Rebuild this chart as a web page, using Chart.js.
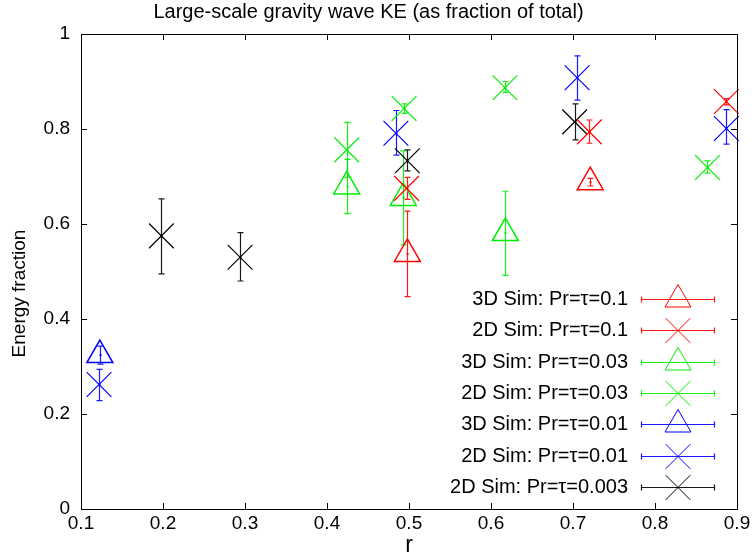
<!DOCTYPE html>
<html>
<head>
<meta charset="utf-8">
<script src="https://cdn.jsdelivr.net/npm/chart.js@4.4.0/dist/chart.umd.min.js"></script>
<style>
  html, body { margin: 0; padding: 0; background: #fff; }
  #caixa { width: 756px; height: 559px; }
</style>
</head>
<body>
<div id="caixa"><canvas id="graficoEnergia"></canvas></div>
<script>
// === DADOS ===
const tituloGrafico = 'Large-scale gravity wave KE (as fraction of total)';
const tituloY = 'Energy fraction';
const seriesLabels = [
  '3D Sim: Pr=τ=0.1', '2D Sim: Pr=τ=0.1',
  '3D Sim: Pr=τ=0.03', '2D Sim: Pr=τ=0.03',
  '3D Sim: Pr=τ=0.01', '2D Sim: Pr=τ=0.01',
  '2D Sim: Pr=τ=0.003'
];

// 3D Sim, Pr=τ=0.1
const r3D_p1 = [0.498, 0.721];
const e3D_p1 = [0.537, 0.688];
const lo3D_p1 = [0.447, 0.680];
const hi3D_p1 = [0.627, 0.696];
// 2D Sim, Pr=τ=0.1
const r2D_p1 = [0.497, 0.720, 0.887];
const e2D_p1 = [0.675, 0.794, 0.858];
const lo2D_p1 = [0.652, 0.770, 0.851];
const hi2D_p1 = [0.698, 0.819, 0.864];
// 3D Sim, Pr=τ=0.03
const r3D_p03 = [0.424, 0.493, 0.6175];
const e3D_p03 = [0.679, 0.655, 0.581];
const lo3D_p03 = [0.622, 0.556, 0.492];
const hi3D_p03 = [0.736, 0.754, 0.669];
// 2D Sim, Pr=τ=0.03
const r2D_p03 = [0.424, 0.494, 0.617, 0.864];
const e2D_p03 = [0.756, 0.843, 0.887, 0.719];
const lo2D_p03 = [0.698, 0.833, 0.877, 0.707];
const hi2D_p03 = [0.814, 0.853, 0.900, 0.733];
// 3D Sim, Pr=τ=0.01
const r3D_p01 = [0.123];
const e3D_p01 = [0.324];
const lo3D_p01 = [0.305];
const hi3D_p01 = [0.343];
// 2D Sim, Pr=τ=0.01
const r2D_p01 = [0.122, 0.484, 0.705, 0.887];
const e2D_p01 = [0.262, 0.791, 0.908, 0.801];
const lo2D_p01 = [0.228, 0.745, 0.861, 0.768];
const hi2D_p01 = [0.294, 0.839, 0.954, 0.841];
// 2D Sim, Pr=τ=0.003
const r2D_p003 = [0.198, 0.294, 0.498, 0.702];
const e2D_p003 = [0.575, 0.530, 0.733, 0.815];
const lo2D_p003 = [0.495, 0.480, 0.712, 0.777];
const hi2D_p003 = [0.653, 0.582, 0.756, 0.853];

// eixos
const xTicks = [0.1, 0.2, 0.3, 0.4, 0.5, 0.6, 0.7, 0.8, 0.9];
const xTickLabels = ['0.1', '0.2', '0.3', '0.4', '0.5', '0.6', '0.7', '0.8', '0.9'];
const yTicks = [0, 0.2, 0.4, 0.6, 0.8, 1];
const yTickLabels = ['0', '0.2', '0.4', '0.6', '0.8', '1'];

// junta os arrays em pontos {x, y, lo, hi}
function pontos(r, e, lo, hi) {
  return r.map((x, i) => ({ x: x, y: e[i], lo: lo[i], hi: hi[i] }));
}

const fonte = 'Liberation Sans, Arial, sans-serif';
const VERMELHO = '#ff0000', VERDE = '#00ee00', AZUL = '#0000ff', PRETO = '#000000';

function serie(i, dados, cor, estilo) {
  return {
    label: seriesLabels[i],
    data: dados,
    borderColor: cor,
    backgroundColor: 'transparent',
    pointStyle: estilo,
    pointRadius: estilo === 'triangle' ? 15 : 17.5,
    pointHoverRadius: estilo === 'triangle' ? 15 : 17.5,
    pointBorderWidth: estilo === 'triangle' ? 1.5 : 1.2,
    showLine: false,
    clip: false,
    corErro: cor
  };
}

const datasets = [
  serie(0, pontos(r3D_p1, e3D_p1, lo3D_p1, hi3D_p1), VERMELHO, 'triangle'),
  serie(1, pontos(r2D_p1, e2D_p1, lo2D_p1, hi2D_p1), VERMELHO, 'crossRot'),
  serie(2, pontos(r3D_p03, e3D_p03, lo3D_p03, hi3D_p03), VERDE, 'triangle'),
  serie(3, pontos(r2D_p03, e2D_p03, lo2D_p03, hi2D_p03), VERDE, 'crossRot'),
  serie(4, pontos(r3D_p01, e3D_p01, lo3D_p01, hi3D_p01), AZUL, 'triangle'),
  serie(5, pontos(r2D_p01, e2D_p01, lo2D_p01, hi2D_p01), AZUL, 'crossRot'),
  serie(6, pontos(r2D_p003, e2D_p003, lo2D_p003, hi2D_p003), PRETO, 'crossRot')
];

// === BARRAS DE ERRO ===
const barrasErro = {
  id: 'barrasErro',
  beforeDatasetsDraw(chart) {
    const ctx = chart.ctx;
    const xs = chart.scales.x, ys = chart.scales.y;
    chart.data.datasets.forEach(ds => {
      ctx.save();
      ctx.strokeStyle = ds.corErro;
      ctx.globalAlpha = 0.9;
      ctx.lineWidth = 1.2;
      ds.data.forEach(p => {
        const px = Math.round(xs.getPixelForValue(p.x)) + 0.5;
        const topo = ys.getPixelForValue(p.hi);
        const base = ys.getPixelForValue(p.lo);
        const py = ys.getPixelForValue(p.y);
        ctx.beginPath();
        ctx.moveTo(px, topo); ctx.lineTo(px, base);
        ctx.moveTo(px - 3, topo); ctx.lineTo(px + 3, topo);
        ctx.moveTo(px - 3, base); ctx.lineTo(px + 3, base);
        ctx.stroke();
        ctx.fillStyle = ds.corErro;
        ctx.fillRect(px - 1, py - 1, 2, 2);
      });
      ctx.restore();
    });
  }
};

// === MOLDURA, MARCAS, TÍTULO Y E LEGENDA ===
const moldura = {
  id: 'moldura',
  afterDraw(chart) {
    const ctx = chart.ctx;
    const a = chart.chartArea;
    const xs = chart.scales.x, ys = chart.scales.y;
    ctx.save();
    ctx.strokeStyle = '#000';
    ctx.lineWidth = 1;
    ctx.strokeRect(Math.round(a.left) + 0.5, Math.round(a.top) + 0.5,
      Math.round(a.right - a.left), Math.round(a.bottom - a.top));
    ctx.beginPath();
    xTicks.forEach(v => {
      const px = Math.round(xs.getPixelForValue(v)) + 0.5;
      ctx.moveTo(px, a.bottom); ctx.lineTo(px, a.bottom - 6);
      ctx.moveTo(px, a.top); ctx.lineTo(px, a.top + 6);
    });
    yTicks.forEach(v => {
      const py = Math.round(ys.getPixelForValue(v)) + 0.5;
      ctx.moveTo(a.left, py); ctx.lineTo(a.left + 6, py);
      ctx.moveTo(a.right, py); ctx.lineTo(a.right - 6, py);
    });
    ctx.stroke();

    // título do eixo Y (um pouco abaixo do centro, como no original)
    ctx.save();
    ctx.translate(20, (a.top + a.bottom) / 2 + 22);
    ctx.rotate(-Math.PI / 2);
    ctx.font = '19px ' + fonte;
    ctx.fillStyle = '#000';
    ctx.textAlign = 'center';
    ctx.textBaseline = 'middle';
    ctx.fillText(tituloY, 0, 0);
    ctx.restore();

    // legenda
    ctx.font = '20px ' + fonte;
    ctx.textAlign = 'right';
    ctx.textBaseline = 'middle';
    chart.data.datasets.forEach((ds, i) => {
      const y = Math.round(a.top + 265 + i * 31.3) + 0.5;
      ctx.fillStyle = '#000';
      ctx.fillText(ds.label, a.right - 109, y);
      const x1 = a.right - 96, x2 = a.right - 22;
      ctx.save();
      ctx.strokeStyle = ds.corErro;
      ctx.globalAlpha = 0.9;
      ctx.lineWidth = 1.2;
      ctx.beginPath();
      ctx.moveTo(x1, y); ctx.lineTo(x2, y);
      ctx.moveTo(x1 + 0.5, y - 3); ctx.lineTo(x1 + 0.5, y + 3);
      ctx.moveTo(x2 - 0.5, y - 3); ctx.lineTo(x2 - 0.5, y + 3);
      ctx.stroke();
      ctx.restore();
      ctx.save();
      ctx.strokeStyle = ds.borderColor;
      ctx.fillStyle = 'transparent';
      Chart.helpers.drawPoint(ctx, {
        pointStyle: ds.pointStyle,
        radius: ds.pointRadius,
        rotation: 0,
        borderWidth: ds.pointBorderWidth
      }, a.right - 59, y);
      ctx.restore();
    });
    ctx.restore();
  }
};

Chart.defaults.font.family = fonte;
Chart.defaults.color = '#000';

const ctxEnergia = document.getElementById('graficoEnergia').getContext('2d');
new Chart(ctxEnergia, {
  type: 'scatter',
  data: { datasets: datasets },
  options: {
    responsive: true,
    maintainAspectRatio: false,
    animation: false,
    layout: { padding: { left: 0, right: 19, top: 0, bottom: 0 } },
    plugins: {
      legend: { display: false },
      tooltip: { enabled: false },
      title: {
        display: true,
        text: tituloGrafico,
        font: { size: 20, weight: 'normal' },
        color: '#000',
        padding: { top: 0, bottom: 10 }
      }
    },
    scales: {
      x: {
        type: 'linear',
        min: 0.1,
        max: 0.9,
        afterBuildTicks: s => { s.ticks = xTicks.map(v => ({ value: v })); },
        afterFit: s => { s.height = 50; },
        ticks: {
          callback: (v, i) => xTickLabels[i],
          font: { size: 19 },
          color: '#000',
          padding: 3,
          maxRotation: 0
        },
        grid: { display: false, drawTicks: false },
        border: { display: false },
        title: { display: true, text: 'r', font: { size: 23 }, color: '#000', padding: 0 }
      },
      y: {
        type: 'linear',
        min: 0,
        max: 1,
        afterBuildTicks: s => { s.ticks = yTicks.map(v => ({ value: v })); },
        afterFit: s => { s.width = 81; },
        ticks: {
          callback: (v, i) => yTickLabels[i],
          font: { size: 19 },
          color: '#000',
          padding: 11
        },
        grid: { display: false, drawTicks: false },
        border: { display: false },
        title: { display: false }
      }
    }
  },
  plugins: [barrasErro, moldura]
});
</script>
</body>
</html>
